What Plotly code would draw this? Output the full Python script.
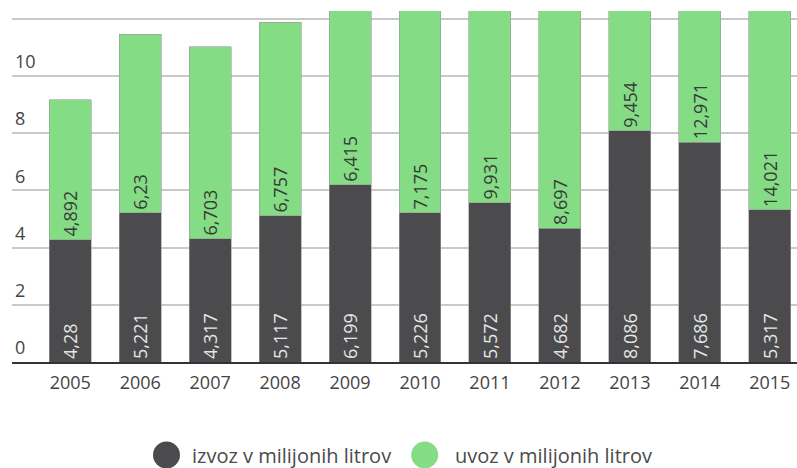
import plotly.graph_objects as go

# Izvoz / uvoz v milijonih litrov po letih
years = ['2005', '2006', '2007', '2008', '2009', '2010', '2011', '2012', '2013', '2014', '2015']
izvoz = [4.28, 5.221, 4.317, 5.117, 6.199, 5.226, 5.572, 4.682, 8.086, 7.686, 5.317]
uvoz = [4.892, 6.23, 6.703, 6.757, 6.415, 7.175, 9.931, 8.697, 9.454, 12.971, 14.021]
y_ticks = [0, 2, 4, 6, 8, 10, 12]

DARK = '#4b4b4d'
GREEN = '#84dc84'
FONT = 'Open Sans'


def fmt(v):
    return f"{v:g}".replace('.', ',')


fig = go.Figure()
fig.add_trace(go.Bar(
    x=years, y=izvoz, name='izvoz v milijonih litrov',
    marker=dict(color=DARK, line=dict(color='#9a9a9a', width=0.6)),
    text=[fmt(v) for v in izvoz],
    textposition='inside', insidetextanchor='start', textangle=-90,
    textfont=dict(family=FONT, size=18, color='#e6e6e6'),
    width=0.6,
))
fig.add_trace(go.Bar(
    x=years, y=uvoz, name='uvoz v milijonih litrov',
    marker=dict(color=GREEN, line=dict(color='#9a9a9a', width=0.6)),
    text=[fmt(v) for v in uvoz],
    textposition='inside', insidetextanchor='start', textangle=-90,
    textfont=dict(family=FONT, size=18, color='#3a3a3a'),
    width=0.6,
))

fig.update_layout(
    barmode='stack',
    width=797, height=468,
    autosize=False,
    margin=dict(l=12, r=0, t=11, b=106, pad=0),
    paper_bgcolor='white',
    plot_bgcolor='white',
    showlegend=False,
    font=dict(family=FONT, size=18, color='#444444'),
    xaxis=dict(
        type='category',
        range=[-0.833, 10.39],
        showgrid=False,
        showline=True, linecolor='#333333', linewidth=2,
        ticks='', ticklabelstandoff=3,
        tickfont=dict(family=FONT, size=18, color='#444444'),
    ),
    yaxis=dict(
        range=[0, 12.27],
        tickvals=y_ticks,
        showgrid=True, gridcolor='#c9c9c9', gridwidth=1.5,
        zeroline=False,
        ticklabelposition='inside',
        ticklabelshift=-14,
        tickfont=dict(family=FONT, size=18, color='#444444'),
    ),
)

# legenda s krogci
legend_items = [
    (0.1968, 0.2268, DARK, 'izvoz v milijonih litrov'),
    (0.5257, 0.5618, GREEN, 'uvoz v milijonih litrov'),
]
for cx, tx, col, label in legend_items:
    fig.add_shape(
        type='circle', xref='paper', yref='paper',
        xsizemode='pixel', ysizemode='pixel',
        xanchor=cx, yanchor=-0.265,
        x0=-13.5, x1=13.5, y0=-13.5, y1=13.5,
        fillcolor=col, line=dict(width=0),
    )
    fig.add_annotation(
        x=tx, y=-0.265, xref='paper', yref='paper',
        text=label, showarrow=False,
        xanchor='left', yanchor='middle',
        font=dict(family=FONT, size=20, color='#4a4a4a'),
    )

# body ima privzeto 8px roba, ki bi zamaknil graf
fig.write_html(
    "out.html",
    config={'displayModeBar': False},
    post_script="document.body.style.margin='0px';",
)
